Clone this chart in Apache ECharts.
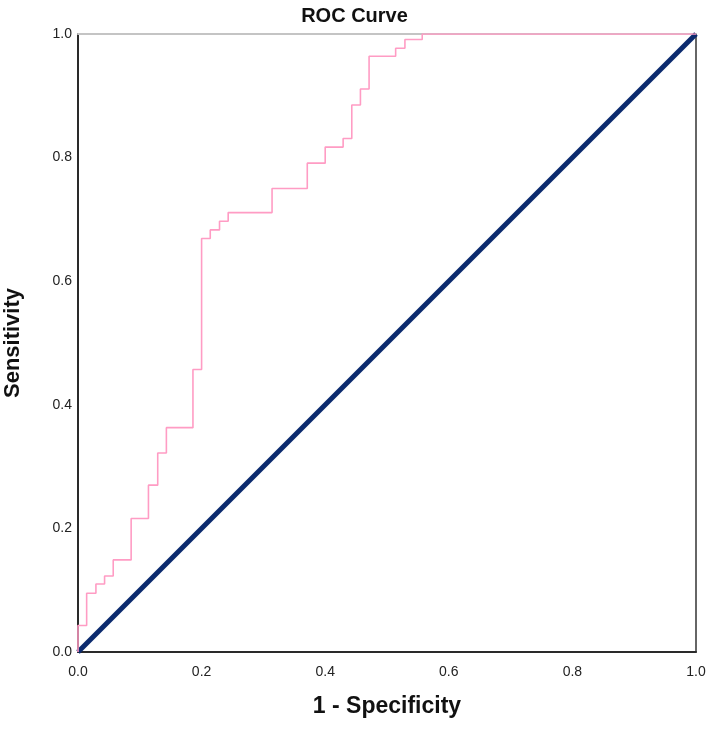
<!DOCTYPE html>
<html><head><meta charset="utf-8">
<script src="https://cdn.jsdelivr.net/npm/echarts@6/dist/echarts.min.js"></script>
<style>html,body{margin:0;padding:0;background:#fff}#c{width:709px;height:731px}</style>
</head><body><div id="c"></div>
<script>
// ROC curve points (1 - Specificity, Sensitivity)
var fpr = [0, 0, 0.014, 0.029, 0.043, 0.057, 0.086, 0.114, 0.129, 0.143, 0.186, 0.200, 0.214, 0.229, 0.243, 0.314, 0.371, 0.400, 0.429, 0.443, 0.457, 0.471, 0.514, 0.529, 0.557, 1.0];
var tpr = [0, 0.043, 0.095, 0.110, 0.123, 0.149, 0.216, 0.270, 0.322, 0.363, 0.457, 0.669, 0.683, 0.697, 0.711, 0.750, 0.791, 0.817, 0.831, 0.885, 0.911, 0.964, 0.977, 0.991, 1.0, 1.0];
var refX = [0, 1];
var refY = [0, 1];
var tickLabels = ['0.0', '0.2', '0.4', '0.6', '0.8', '1.0'];

var chart = echarts.init(document.getElementById('c'));
var font = 'Liberation Sans, Arial, sans-serif';
function fmt(v){ return tickLabels[Math.round(v*5)]; }
chart.setOption({
  animation: false,
  title: { text: 'ROC Curve', left: 'center', top: 1,
    textStyle: { fontFamily: font, fontSize: 20, fontWeight: 'bold', color: '#111' } },
  grid: { left: 78, right: 13, top: 34, bottom: 79, outerBoundsMode: 'none', containLabel: false },
  xAxis: [{
    type: 'value', min: 0, max: 1, interval: 0.2, position: 'bottom',
    name: '1 - Specificity', nameLocation: 'middle', nameGap: 43,
    nameTextStyle: { fontFamily: font, fontSize: 23, fontWeight: 'bold', color: '#111' },
    axisLine: { show: true, onZero: false, lineStyle: { color: '#2a2a2a', width: 2 } },
    axisTick: { show: false }, splitLine: { show: false },
    axisLabel: { formatter: fmt, fontFamily: font, fontSize: 14, color: '#222', margin: 13 }
  }, {
    type: 'value', min: 0, max: 1, position: 'top',
    axisLine: { show: true, onZero: false, lineStyle: { color: '#c4c4c4', width: 2 } },
    axisTick: { show: false }, splitLine: { show: false }, axisLabel: { show: false }
  }],
  yAxis: [{
    type: 'value', min: 0, max: 1, interval: 0.2, position: 'left',
    name: 'Sensitivity', nameLocation: 'middle', nameGap: 54,
    nameTextStyle: { fontFamily: font, fontSize: 22, fontWeight: 'bold', color: '#111' },
    axisLine: { show: true, onZero: false, lineStyle: { color: '#2a2a2a', width: 2 } },
    axisTick: { show: false }, splitLine: { show: false },
    axisLabel: { formatter: fmt, fontFamily: font, fontSize: 14, color: '#222', margin: 6 }
  }, {
    type: 'value', min: 0, max: 1, position: 'right',
    axisLine: { show: true, onZero: false, lineStyle: { color: '#333', width: 1.5 } },
    axisTick: { show: false }, splitLine: { show: false }, axisLabel: { show: false }
  }],
  series: [{
    type: 'line', step: 'end', showSymbol: false, symbol: 'none',
    data: fpr.map(function(x,i){ return [x, tpr[i]]; }),
    lineStyle: { color: '#ff9cc4', width: 1.6 }, z: 3
  }, {
    type: 'line', showSymbol: false, symbol: 'none',
    data: refX.map(function(x,i){ return [x, refY[i]]; }),
    lineStyle: { color: '#0c2b6e', width: 5 }, z: 2
  }]
});
</script></body></html>
